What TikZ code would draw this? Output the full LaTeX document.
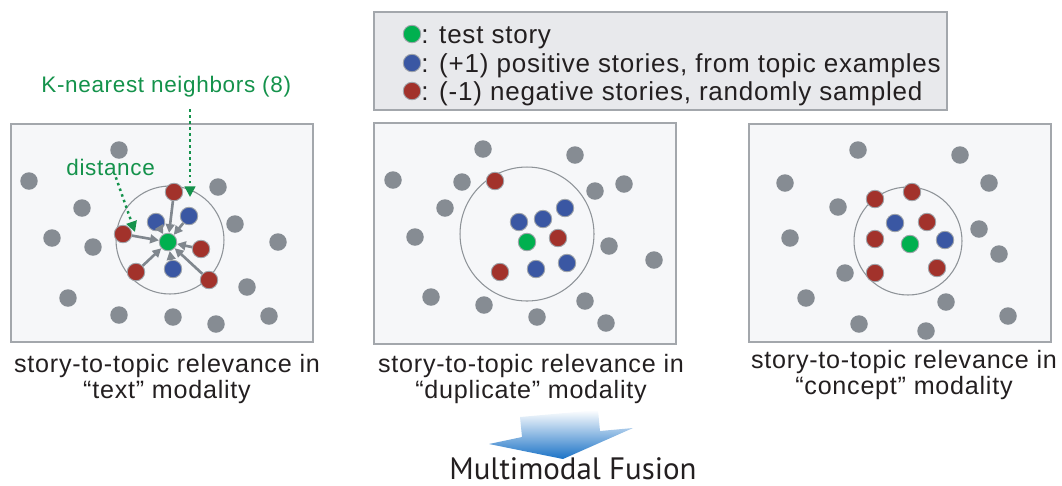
\documentclass[tikz,border=0pt]{standalone}
\usepackage{fontspec}
\setmainfont{Liberation Sans}[LetterSpace=3]
\newfontfamily\fusionfont{PT Sans}
\usetikzlibrary{arrows.meta}

\definecolor{dotgray}{HTML}{868C93}
\definecolor{negred}{HTML}{A2322B}
\definecolor{posblue}{HTML}{3A57A3}
\definecolor{testgreen}{HTML}{00B04F}
\definecolor{panelfill}{HTML}{F6F7F9}
\definecolor{panelline}{HTML}{A3A7AC}
\definecolor{legendfill}{HTML}{E8E9EC}
\definecolor{ringgray}{HTML}{8E9398}
\definecolor{arrowgray}{HTML}{80878E}
\definecolor{annogreen}{HTML}{14924B}
\definecolor{fusionblue}{HTML}{1A72C6}
\definecolor{textgray}{HTML}{231F20}

\tikzset{
  dot/.style={circle, inner sep=0pt, minimum size=0.35cm},
  graydot/.style={dot, fill=dotgray},
  testdot/.style={dot, fill=testgreen, draw=dotgray!80, line width=0.5pt},
  posdot/.style={dot, fill=posblue, draw=dotgray!80, line width=0.5pt},
  negdot/.style={dot, fill=negred, draw=dotgray!80, line width=0.5pt},
  panel/.style={draw=panelline, fill=panelfill, line width=1.1pt},
  ring/.style={draw=ringgray, line width=0.6pt},
  distarrow/.style={draw=arrowgray, line width=1.5pt, -{Triangle[length=5pt,width=5pt]}},
  annoarrow/.style={draw=annogreen, line width=1.4pt, dotted, -{Triangle[length=6pt,width=6pt]}},
  caption/.style={font=\fontsize{14.3}{15}\selectfont, text=textgray, align=center, inner sep=0pt, anchor=north},
  legtext/.style={font=\fontsize{14.8}{16}\selectfont, text=textgray, inner sep=0pt, anchor=base west},
  annotext/.style={font=\fontsize{12.8}{14}\selectfont, text=annogreen, inner sep=0pt, anchor=base west}
}

\begin{document}
\begin{tikzpicture}[x=0.02cm, y=-0.02cm]
\useasboundingbox (0,0) rectangle (1062,485);

% legend
\draw[draw=panelline, fill=legendfill, line width=0.9pt] (374,12) rectangle (947,110);
\node[testdot] (legtest) at (412,34) {};
\node[posdot] (legpos) at (412,63) {};
\node[negdot] (legneg) at (412,91) {};
\node[legtext] (legtesttxt) at (421,43) {: test story};
\node[legtext] (legpostxt) at (421,72) {: (+1) positive stories, from topic examples};
\node[legtext] (legnegtxt) at (421,100) {: (-1) negative stories, randomly sampled};

% panels
\draw[panel] (11,124) rectangle (313,342);
\draw[panel] (374,123) rectangle (676,344);
\draw[panel] (749,124) rectangle (1051,342);

% text modality
\draw[ring] (170,240) circle[radius=1.08cm];
\foreach \x/\y [count=\i] in {119/150, 29/181, 82/208, 218/187, 52/238, 93/247, 235/224,
    278/242, 247/287, 68/298, 119/315, 173/317, 216/324, 269/316}
  \node[graydot] (lg\i) at (\x,\y) {};
\node[testdot] (lc) at (168,242) {};
\node[negdot] (ln1) at (174,192) {};
\node[posdot] (ln2) at (189,216) {};
\node[posdot] (ln3) at (156,222) {};
\node[negdot] (ln4) at (123,234) {};
\node[negdot] (ln5) at (201,249) {};
\node[posdot] (ln6) at (173,269) {};
\node[negdot] (ln7) at (136,272) {};
\node[negdot] (ln8) at (209,280) {};
\foreach \i in {1,...,8}
  \draw[distarrow] (ln\i) -- (lc);

\node[annotext] (knnlab) at (41,92) {K-nearest neighbors (8)};
\node[annotext] (distlab) at (66,175) {distance};
\coordinate (knntip) at (190,197);
\coordinate (disttip) at (135,232);
\draw[annoarrow] ([yshift=-7pt]knnlab.south -| knntip) -- (knntip);
\draw[annoarrow] ([xshift=3pt,yshift=-1pt]distlab.south) -- (disttip);

% duplicate modality
\draw[ring] (527,234) circle[radius=1.34cm];
\foreach \x/\y [count=\i] in {483/149, 575/155, 393/180, 462/182, 595/191, 624/184, 445/208,
    415/237, 609/246, 654/260, 431/297, 484/305, 537/317, 585/301, 606/323}
  \node[graydot] (mg\i) at (\x,\y) {};
\node[testdot] (mc) at (527,242) {};
\node[negdot] (mn1) at (495,181) {};
\node[posdot] (mn2) at (565,208) {};
\node[posdot] (mn3) at (519,222) {};
\node[posdot] (mn4) at (543,219) {};
\node[negdot] (mn5) at (558,238) {};
\node[negdot] (mn6) at (500,272) {};
\node[posdot] (mn7) at (536,269) {};
\node[posdot] (mn8) at (567,263) {};

% concept modality
\draw[ring] (908,241) circle[radius=1.08cm];
\foreach \x/\y [count=\i] in {858/150, 960/155, 785/183, 989/183, 838/207, 979/229, 790/238,
    999/254, 845/273, 806/298, 946/302, 859/324, 926/331, 1008/316}
  \node[graydot] (rg\i) at (\x,\y) {};
\node[testdot] (rc) at (910,244) {};
\node[negdot] (rn1) at (875,199) {};
\node[negdot] (rn2) at (912,192) {};
\node[posdot] (rn3) at (895,223) {};
\node[negdot] (rn4) at (927,222) {};
\node[negdot] (rn5) at (875,239) {};
\node[posdot] (rn6) at (945,240) {};
\node[negdot] (rn7) at (875,273) {};
\node[negdot] (rn8) at (937,268) {};

% captions
\node[caption] (textcap) at (167,354) {story-to-topic relevance in\\``text'' modality};
\node[caption] (dupcap) at (531,354) {story-to-topic relevance in\\``duplicate'' modality};
\node[caption] (conceptcap) at (904,350) {story-to-topic relevance in\\``concept'' modality};

% fusion
\shade[top color=white, bottom color=fusionblue]
  (520,417) -- (598,410) -- (600,431) -- (633,428) -- (563,459) -- (489,444) -- (522,437) -- cycle;
\node[font=\fusionfont\fontsize{17.6}{19}\selectfont, text=textgray, inner sep=0pt, anchor=base]
  (fusion) at (573,479) {Multimodal Fusion};
\end{tikzpicture}
\end{document}
